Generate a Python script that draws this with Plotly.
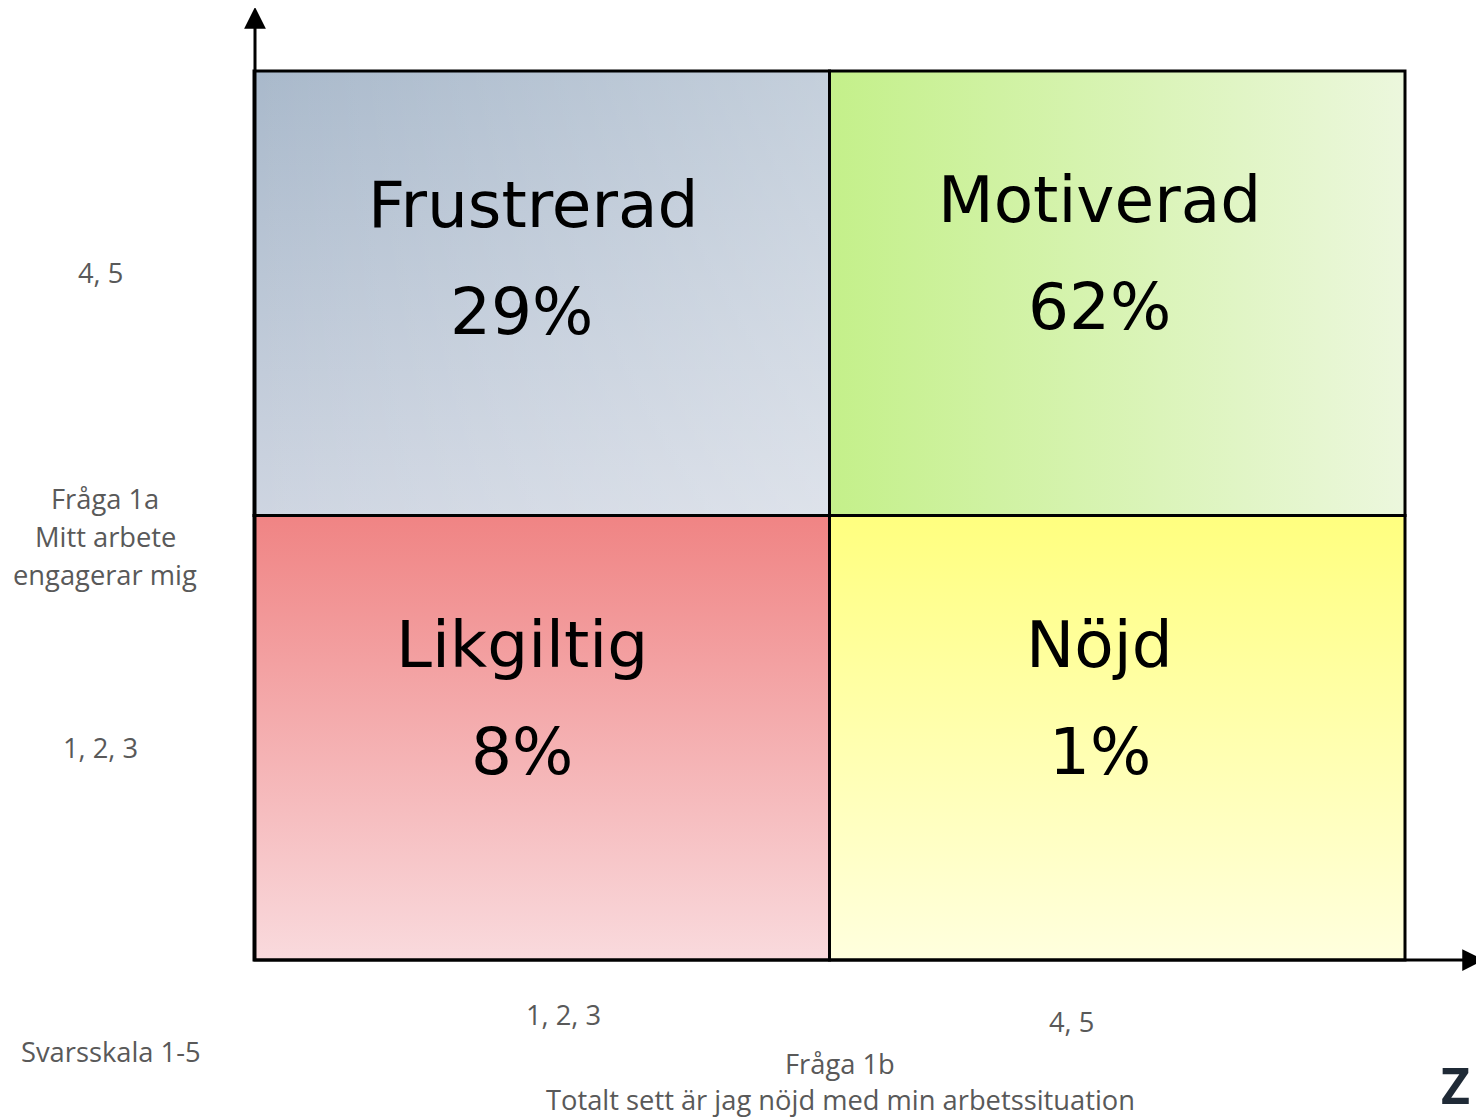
import plotly.graph_objects as go

# ---------------- data ----------------
quad_names = ["Frustrerad", "Motiverad", "Likgiltig", "Nöjd"]
quad_values = [29, 62, 8, 1]          # percent
quad_col = [0, 1, 0, 1]               # 0 = answers 1,2,3 ; 1 = answers 4,5 (Fråga 1b)
quad_row = [1, 1, 0, 0]               # 0 = answers 1,2,3 ; 1 = answers 4,5 (Fråga 1a)
x_tick_labels = ["1, 2, 3", "4, 5"]
y_tick_labels = ["1, 2, 3", "4, 5"]
y_title_lines = ["Fråga 1a", "Mitt arbete", "engagerar mig"]
x_title_lines = ["Fråga 1b", "Totalt sett är jag nöjd med min arbetssituation"]
scale_note = "Svarsskala 1-5"

# ---------------- styling ----------------
PAGE_W, PAGE_H = 1484, 1118
OFF = 8                                # default page body margin
W, H = PAGE_W - OFF, PAGE_H - OFF
LEFT_PX, RIGHT_PX = 254, 1405          # quadrant grid edges (page pixels)
TOP_PX, BOTTOM_PX = 71, 960
UX = (RIGHT_PX - LEFT_PX) / 2.0
UY = (BOTTOM_PX - TOP_PX) / 2.0
x_range = [-(LEFT_PX - OFF) / UX, (W - (LEFT_PX - OFF)) / UX]
y_range = [-(H - (BOTTOM_PX - OFF)) / UY, (BOTTOM_PX - OFF) / UY]


def dx(xp):
    return (xp - LEFT_PX) / UX


def dy(yp):
    return (BOTTOM_PX - yp) / UY


gradients = {
    "Frustrerad": [
        dict(type="vertical", colorscale=[[0, "rgb(206,213,225)"], [1, "rgb(169,185,203)"]]),
        dict(type="horizontal", colorscale=[[0, "rgba(255,255,255,0)"], [1, "rgba(255,255,255,0.32)"]]),
    ],
    "Motiverad": [
        dict(type="horizontal", colorscale=[[0, "rgb(196,240,138)"], [1, "rgb(236,247,221)"]]),
    ],
    "Likgiltig": [
        dict(type="vertical", colorscale=[[0, "rgb(249,218,221)"], [1, "rgb(240,132,132)"]]),
    ],
    "Nöjd": [
        dict(type="vertical", colorscale=[[0, "rgb(255,255,222)"], [1, "rgb(255,255,127)"]]),
    ],
}
name_dx = [0.485, 0.47, 0.465, 0.47]
name_dy = [0.70, 0.71, 0.71, 0.71]
pct_dx = [0.465, 0.47, 0.465, 0.47]
pct_dy = [0.46, 0.47, 0.47, 0.47]

BIG_FONT = dict(family="DejaVu Sans", size=64.5, color="#000000")
GRAY_FONT = dict(family="Open Sans", size=27.3, color="#595959")

fig = go.Figure()
shapes = []
annotations = []

for i, name in enumerate(quad_names):
    c, r = quad_col[i], quad_row[i]
    xs = [c, c + 1, c + 1, c, c]
    ys = [r, r, r + 1, r + 1, r]
    for g in gradients[name]:
        fg = dict(type=g["type"], colorscale=g["colorscale"])
        if g["type"] == "vertical":
            fg.update(start=r, stop=r + 1)
        else:
            fg.update(start=c, stop=c + 1)
        fig.add_trace(go.Scatter(
            x=xs, y=ys, mode="lines", fill="toself",
            line=dict(width=0, color="rgba(0,0,0,0)"),
            fillgradient=fg, hoverinfo="skip", showlegend=False,
        ))
    shapes.append(dict(type="rect", xref="x", yref="y", x0=c, x1=c + 1, y0=r, y1=r + 1,
                       line=dict(color="#000000", width=3), fillcolor="rgba(0,0,0,0)"))
    annotations.append(dict(x=c + name_dx[i], y=r + name_dy[i], xref="x", yref="y",
                            text=name, showarrow=False, font=BIG_FONT,
                            xanchor="center", yanchor="middle"))
    annotations.append(dict(x=c + pct_dx[i], y=r + pct_dy[i], xref="x", yref="y",
                            text=f"{quad_values[i]}%", showarrow=False, font=BIG_FONT,
                            xanchor="center", yanchor="middle"))

# axes with arrows
annotations.append(dict(x=dx(255), y=dy(7), ax=dx(255), ay=dy(BOTTOM_PX + 1),
                        xref="x", yref="y", axref="x", ayref="y", text="",
                        showarrow=True, arrowhead=2, arrowsize=1.45, arrowwidth=3,
                        arrowcolor="#000000", standoff=0))
annotations.append(dict(x=dx(1484), y=dy(BOTTOM_PX), ax=dx(252), ay=dy(BOTTOM_PX),
                        xref="x", yref="y", axref="x", ayref="y", text="",
                        showarrow=True, arrowhead=2, arrowsize=1.45, arrowwidth=3,
                        arrowcolor="#000000", standoff=0))


def gray(text, xp, yp, anchor="center"):
    annotations.append(dict(x=dx(xp), y=dy(yp), xref="x", yref="y", text=text,
                            showarrow=False, font=GRAY_FONT, xanchor=anchor,
                            yanchor="middle"))


# y tick labels
gray(y_tick_labels[1], 100, 272)
gray(y_tick_labels[0], 100, 747)
# y title
for k, line in enumerate(y_title_lines):
    gray(line, 105, 498 + 38 * k)
# x tick labels
gray(x_tick_labels[0], 563, 1014)
gray(x_tick_labels[1], 1071, 1021)
# x title
gray(x_title_lines[0], 840, 1063)
gray(x_title_lines[1], 840, 1099)
gray(scale_note, 111, 1051)

# partial logo at bottom right
annotations.append(dict(x=dx(1472), y=dy(1085), xref="x", yref="y", text="<b>Z</b>",
                        showarrow=False, xanchor="right", yanchor="middle",
                        font=dict(family="Open Sans", size=50, color="#1f2a36")))

fig.update_layout(
    width=W, height=H,
    margin=dict(l=0, r=0, t=0, b=0),
    paper_bgcolor="#ffffff", plot_bgcolor="#ffffff",
    xaxis=dict(range=x_range, visible=False, fixedrange=True),
    yaxis=dict(range=y_range, visible=False, fixedrange=True),
    shapes=shapes, annotations=annotations, showlegend=False,
)

fig.write_html("out.html")
